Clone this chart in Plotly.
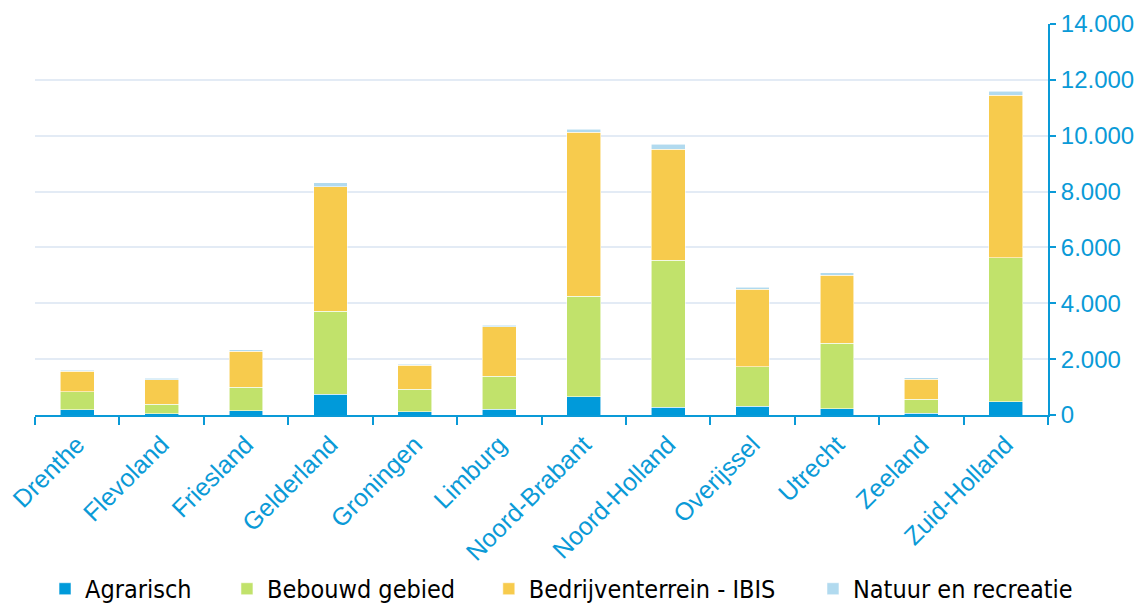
import plotly.graph_objects as go

provinces = ["Drenthe", "Flevoland", "Friesland", "Gelderland", "Groningen", "Limburg",
             "Noord-Brabant", "Noord-Holland", "Overijssel", "Utrecht", "Zeeland", "Zuid-Holland"]
agrarisch = [180, 40, 150, 750, 110, 210, 660, 280, 310, 220, 70, 470]
bebouwd = [650, 350, 840, 2960, 810, 1170, 3590, 5270, 1420, 2350, 490, 5160]
bedrijventerrein = [730, 880, 1290, 4460, 860, 1780, 5880, 3970, 2770, 2440, 720, 5820]
natuur = [50, 50, 50, 140, 30, 60, 110, 180, 70, 80, 60, 140]

series = [
    ("Agrarisch", agrarisch, "#009ADA"),
    ("Bebouwd gebied", bebouwd, "#C1E26B"),
    ("Bedrijventerrein - IBIS", bedrijventerrein, "#F7CB4D"),
    ("Natuur en recreatie", natuur, "#B1DAEF"),
]
legend_x = [0.0099, 0.1895, 0.448, 0.768]
legend_ids = ["legend", "legend2", "legend3", "legend4"]

AX = "#0A9AD7"
fig = go.Figure()
for (name, vals, col), lid in zip(series, legend_ids):
    fig.add_trace(go.Bar(x=provinces, y=vals, name=name, marker_color=col, legend=lid,
                         showlegend=True,
                         marker_line=dict(width=0.8, color="rgba(255,255,255,0.7)")))

legend_font = dict(family="Liberation Sans Narrow, DejaVu Sans Condensed, sans-serif",
                   size=25, color="black")
legends = {}
for lid, lx in zip(legend_ids, legend_x):
    legends[lid] = dict(orientation="h", x=lx, xanchor="left", y=-0.445, yanchor="middle",
                        font=legend_font, itemwidth=30, itemclick=False,
                        bgcolor="rgba(0,0,0,0)")

fig.update_layout(
    showlegend=True,
    barmode="stack",
    bargap=0.6,
    width=1138, height=597,
    margin=dict(l=27, r=98, t=16, b=190, autoexpand=False),
    plot_bgcolor="white", paper_bgcolor="white",
    separators=",.",
    font=dict(family="Liberation Sans, Arial, sans-serif", size=24, color=AX),
    xaxis=dict(tickangle=-45, tickson="boundaries", ticks="outside", ticklen=8,
               tickwidth=2, tickcolor=AX, showline=True, linecolor=AX, linewidth=2,
               showgrid=False, automargin=False, ticklabelstandoff=3,
               tickfont=dict(size=25, color=AX)),
    yaxis=dict(side="right", range=[0, 14000], dtick=2000, tickformat=",d",
               showline=True, linecolor=AX, linewidth=2, ticks="outside", ticklen=6,
               tickwidth=2, tickcolor=AX, gridcolor="#E3EBF5", gridwidth=2,
               zeroline=False, automargin=False, tickfont=dict(size=24, color=AX)),
    **legends,
)

fig.write_html("out.html")
